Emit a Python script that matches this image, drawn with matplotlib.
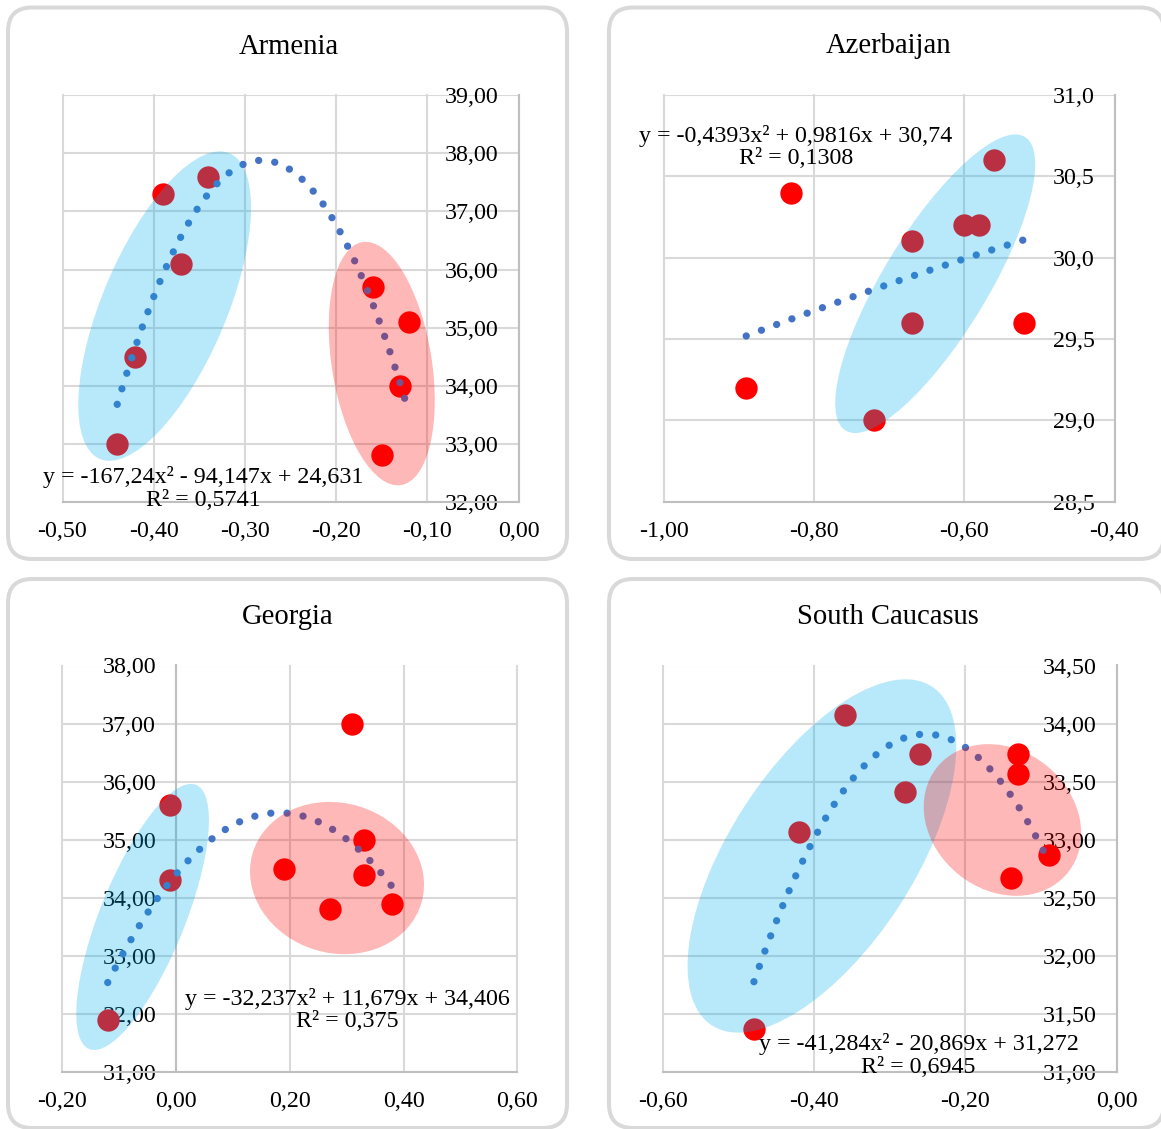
import numpy as np
import matplotlib
matplotlib.use('Agg')
import matplotlib.pyplot as plt
import matplotlib.transforms as mtransforms
from matplotlib.patches import Ellipse, FancyBboxPatch
from matplotlib.ticker import FuncFormatter

plt.rcParams['font.family'] = ['Liberation Serif', 'DejaVu Serif']

# ---- data ----
arm_x = [-0.44, -0.42, -0.39, -0.37, -0.34, -0.16, -0.12, -0.13, -0.15]
arm_y = [33.00, 34.50, 37.30, 36.10, 37.60, 35.70, 35.10, 34.00, 32.80]
arm_coef = [-167.24, -94.147, 24.631]
arm_eq = 'y = -167,24x² - 94,147x + 24,631\nR² = 0,5741'

aze_x = [-0.83, -0.89, -0.72, -0.67, -0.67, -0.60, -0.58, -0.56, -0.52]
aze_y = [30.40, 29.20, 29.00, 30.10, 29.60, 30.20, 30.20, 30.60, 29.60]
aze_coef = [-0.4393, 0.9816, 30.74]
aze_eq = 'y = -0,4393x² + 0,9816x + 30,74\nR² = 0,1308'

geo_x = [-0.12, -0.01, -0.01, 0.19, 0.27, 0.31, 0.33, 0.33, 0.38]
geo_y = [31.90, 34.30, 35.60, 34.50, 33.80, 37.00, 35.00, 34.40, 33.90]
geo_coef = [-32.237, 11.679, 34.406]
geo_eq = 'y = -32,237x² + 11,679x + 34,406\nR² = 0,375'

sc_x = [-0.48, -0.42, -0.36, -0.28, -0.26, -0.13, -0.13, -0.14, -0.09]
sc_y = [31.37, 33.07, 34.07, 33.41, 33.74, 33.74, 33.57, 32.67, 32.87]
sc_coef = [-41.284, -20.869, 31.272]
sc_eq = 'y = -41,284x² - 20,869x + 31,272\nR² = 0,6945'

arm_xticks = [-0.5, -0.4, -0.3, -0.2, -0.1, 0.0]
arm_yticks = [32, 33, 34, 35, 36, 37, 38, 39]
aze_xticks = [-1.0, -0.8, -0.6, -0.4]
aze_yticks = [28.5, 29.0, 29.5, 30.0, 30.5, 31.0]
geo_xticks = [-0.2, 0.0, 0.2, 0.4, 0.6]
geo_yticks = [31, 32, 33, 34, 35, 36, 37, 38]
sc_xticks = [-0.6, -0.4, -0.2, 0.0]
sc_yticks = [31.0, 31.5, 32.0, 32.5, 33.0, 33.5, 34.0, 34.5]

W, H = 1161, 1129
BLUE = '#00B0F0'
PINK = '#FF0000'

panels = [
    dict(title='Armenia', x=arm_x, y=arm_y, coef=arm_coef, eq=arm_eq,
         xt=arm_xticks, yt=arm_yticks, ydec=2, cross=0.0,
         box=(62.5, 95.3, 518.6, 501.8), eqpos=(0.308, 0.033),
         ell=[(-0.388, 35.37, 332, 124, 67, BLUE), (-0.150, 34.38, 246, 100, 99, PINK)]),
    dict(title='Azerbaijan', x=aze_x, y=aze_y, coef=aze_coef, eq=aze_eq,
         xt=aze_xticks, yt=aze_yticks, ydec=1, cross=-0.4,
         box=(663.5, 95.2, 1114.5, 501.5), eqpos=(0.293, 0.8725),
         ell=[(-0.6385, 29.84, 344, 104, 58.6, BLUE)]),
    dict(title='Georgia', x=geo_x, y=geo_y, coef=geo_coef, eq=geo_eq,
         xt=geo_xticks, yt=geo_yticks, ydec=2, cross=0.0,
         box=(62.2, 665.5, 517.4, 1072), eqpos=(0.626, 0.1525),
         ell=[(-0.0587, 33.67, 285, 85, 68, BLUE), (0.283, 34.34, 176, 150, -16.5, PINK)]),
    dict(title='South Caucasus', x=sc_x, y=sc_y, coef=sc_coef, eq=sc_eq,
         xt=sc_xticks, yt=sc_yticks, ydec=2, cross=0.0,
         box=(663.3, 665.5, 1116.5, 1072), eqpos=(0.563, 0.041),
         ell=[(-0.390, 32.86, 404, 184, 57, BLUE), (-0.151, 33.17, 168, 140, -39, PINK)]),
]

# panel frames (pixel coords, top-left origin)
frames = [(8, 7.5, 567, 559), (609, 7.5, 1164, 559), (8, 579, 567, 1128), (609, 579, 1164, 1128)]
titles_px = [(289, 46.5), (889, 46), (288, 617.4), (888, 617)]

fig = plt.figure(figsize=(W / 100, H / 100), dpi=100)

for (x0, y0, x1, y1) in frames:
    fb = FancyBboxPatch((x0, H - y1), x1 - x0, y1 - y0,
                        boxstyle='round,pad=0,rounding_size=24',
                        transform=mtransforms.IdentityTransform(),
                        facecolor='white', edgecolor='#d9d9d9', linewidth=2.9,
                        zorder=-1)
    fig.add_artist(fb)


def fmt(dec):
    return FuncFormatter(lambda v, p: f'{v + 0.0:.{dec}f}'.replace('-0.00', '0.00').replace('.', ','))


for p, (tx, ty) in zip(panels, titles_px):
    l, t, r, b = p['box']
    ax = fig.add_axes([l / W, 1 - b / H, (r - l) / W, (b - t) / H])
    ax.set_facecolor('none')
    ax.set_xlim(p['xt'][0], p['xt'][-1])
    ax.set_ylim(p['yt'][0], p['yt'][-1])
    ax.set_xticks(p['xt'])
    ax.set_yticks(p['yt'])
    ax.xaxis.set_major_formatter(fmt(2))
    ax.yaxis.set_major_formatter(fmt(p['ydec']))
    ax.grid(True, color='#d9d9d9', linewidth=1.5)
    ax.set_axisbelow(True)
    for ln in ax.get_xgridlines() + ax.get_ygridlines():
        ln.set_clip_on(False)
    ax.spines['top'].set_visible(False)
    ax.spines['right'].set_visible(False)
    ax.spines['left'].set_position(('data', p['cross']))
    ax.spines['left'].set_color('#bfbfbf')
    ax.spines['bottom'].set_color('#bfbfbf')
    ax.spines['left'].set_linewidth(1.5)
    ax.spines['bottom'].set_linewidth(1.5)
    ax.tick_params(axis='both', length=0, labelsize=17.3, colors='black')
    ax.tick_params(axis='y', pad=14.4)
    ax.tick_params(axis='x', pad=14)

    ax.scatter(p['x'], p['y'], s=259, color='#FF0000', linewidths=0, zorder=3)

    xs = np.linspace(min(p['x']), max(p['x']), 300)
    ax.plot(xs, np.polyval(p['coef'], xs), color='#4472C4', linewidth=5.25,
            linestyle=(0, (0.01, 2.22)), dash_capstyle='round', zorder=3.5)

    for (cx, cy, w, h, ang, col) in p['ell']:
        tr = mtransforms.ScaledTranslation(cx, cy, ax.transData)
        ax.add_patch(Ellipse((0, 0), w, h, angle=ang, transform=tr,
                             facecolor=col, alpha=0.28, edgecolor='none', zorder=4))

    ax.text(p['eqpos'][0], p['eqpos'][1], p['eq'], transform=ax.transAxes,
            ha='center', va='center', multialignment='center', fontsize=17.3,
            linespacing=1.12, zorder=5)

    fig.text(tx / W, 1 - ty / H, p['title'], ha='center', va='center', fontsize=20.6)

fig.savefig('out.png', dpi=100)
